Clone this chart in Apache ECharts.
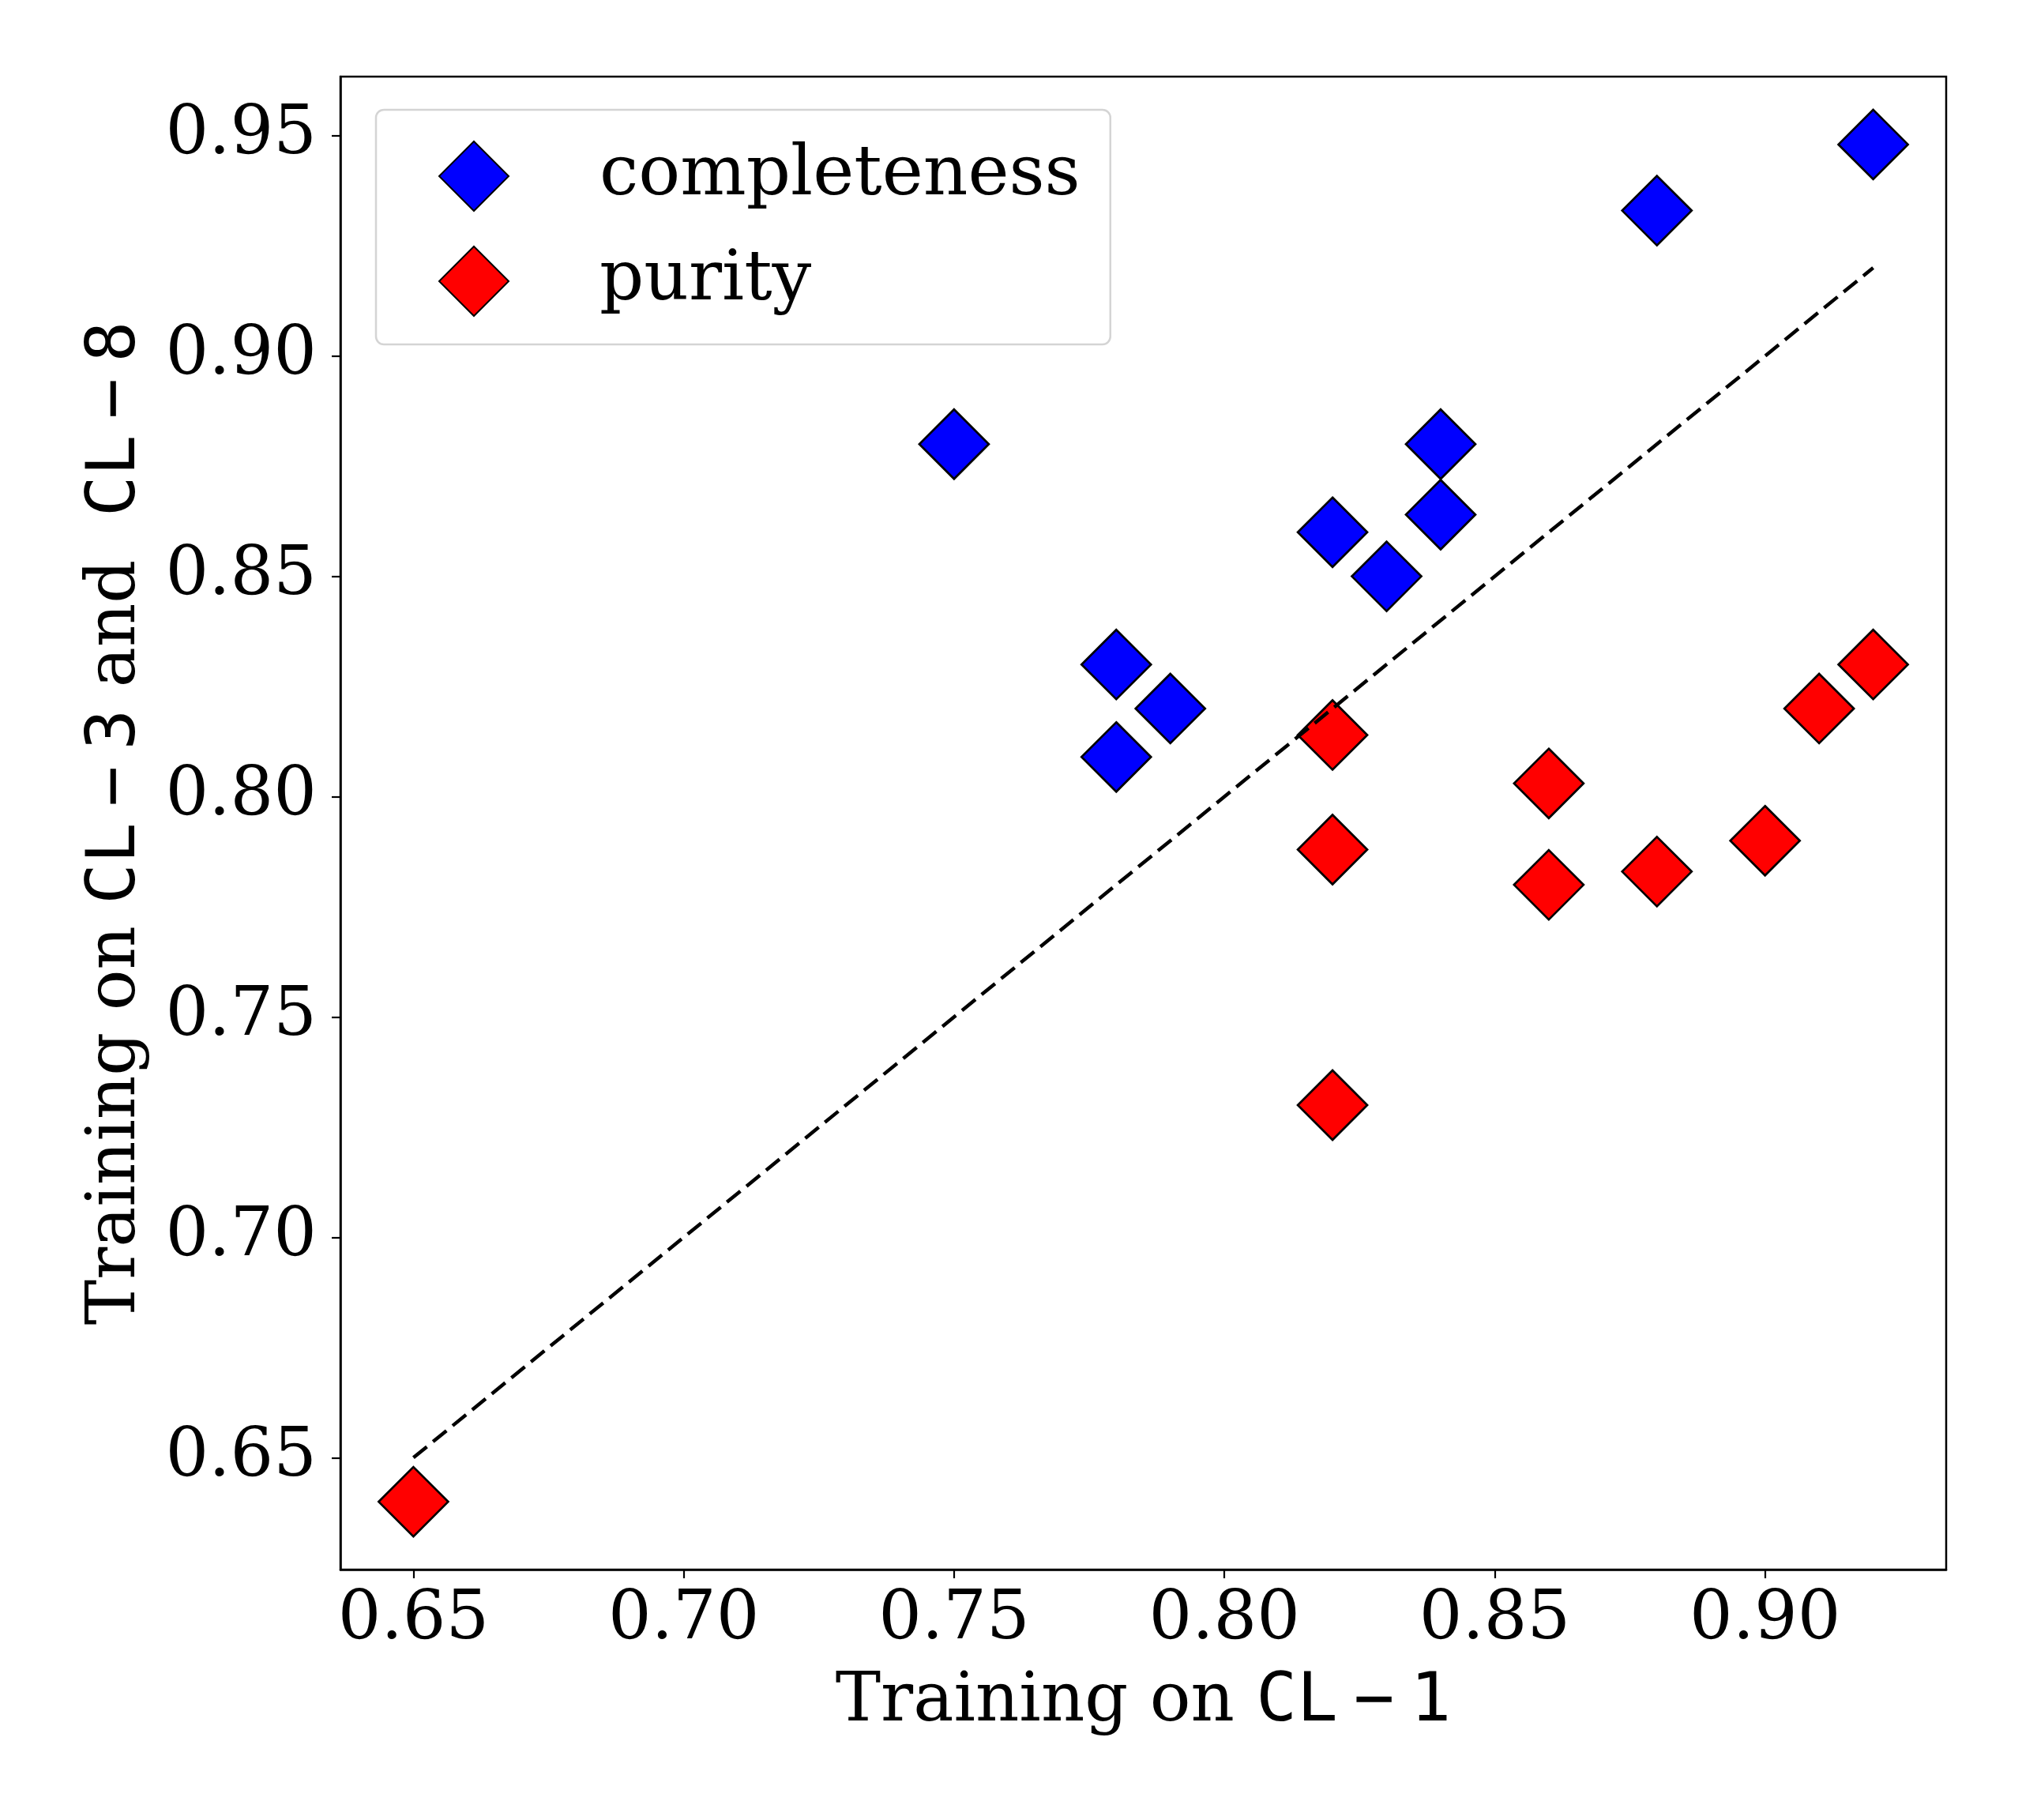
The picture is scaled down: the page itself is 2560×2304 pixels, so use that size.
<!DOCTYPE html>
<html lang="en">
<head>
  <meta charset="UTF-8" />
  <title>CL-1 vs CL-3 and CL-8</title>
  <script src="https://cdn.jsdelivr.net/npm/echarts@6/dist/echarts.min.js"></script>
  <style>
    html, body { margin: 0; padding: 0; background: #fff; }
    #main { width: 2560px; height: 2304px; }
  </style>
</head>
<body>
  <div id="main"></div>
  <script>
    // 数据：横轴为 CL-1 训练结果，纵轴为 CL-3 与 CL-8 训练结果
    var completenessX = [0.92, 0.88, 0.75, 0.84, 0.84, 0.82, 0.83, 0.78, 0.79, 0.78];
    var completenessY = [0.948, 0.933, 0.880, 0.880, 0.864, 0.860, 0.850, 0.830, 0.820, 0.809];
    var purityX = [0.65, 0.82, 0.82, 0.82, 0.86, 0.86, 0.88, 0.90, 0.91, 0.92];
    var purityY = [0.640, 0.814, 0.788, 0.730, 0.803, 0.780, 0.783, 0.790, 0.820, 0.830];
    var diagX = [0.65, 0.92];
    var diagY = [0.65, 0.92];
    var xTicks = [0.65, 0.70, 0.75, 0.80, 0.85, 0.90];
    var yTicks = [0.65, 0.70, 0.75, 0.80, 0.85, 0.90, 0.95];

    function pairs(xs, ys) {
      return xs.map(function (x, i) { return [x, ys[i]]; });
    }

    var serif = 'DejaVu Serif';
    var mono = 'DejaVu Sans Mono';
    var fs = 86;

    // 轴标题里 CL−n 用等宽字体，减号两侧留空（同 mathtext 二元运算符）
    var titleRich = {
      r: { fontFamily: serif, fontSize: fs, color: '#000' },
      m: { fontFamily: mono, fontSize: fs, color: '#000' },
      n: { fontFamily: mono, fontSize: fs, color: '#000', padding: [0, 20, 0, 20] }
    };

    var chart = echarts.init(document.getElementById('main'), null, { renderer: 'canvas', devicePixelRatio: 1 });

    var option = {
      backgroundColor: '#fff',
      animation: false,
      grid: {
        left: 431, right: 96, top: 97, bottom: 317,
        show: true, borderColor: '#000', borderWidth: 2.5, backgroundColor: 'transparent'
      },
      legend: {
        data: ['completeness', 'purity'],
        orient: 'vertical',
        left: 476, top: 139,
        padding: [39, 38, 35, 79],
        itemWidth: 88, itemHeight: 88,
        itemGap: 43,
        borderColor: '#d4d4d4', borderWidth: 2.5, borderRadius: 10,
        backgroundColor: 'rgba(255,255,255,0.8)',
        textStyle: { fontFamily: serif, fontSize: 88, color: '#000', padding: [0, 0, 0, 110] },
        selectedMode: false
      },
      xAxis: {
        type: 'value',
        min: 0.6365, max: 0.9335,
        name: '{r|Training on }{m|CL}{n|\u2212}{m|1}',
        nameLocation: 'middle',
        nameGap: 126,
        nameTextStyle: { rich: titleRich },
        axisLine: { show: true, onZero: false, lineStyle: { color: '#000', width: 2.5 } },
        axisTick: { show: true, length: 11, lineStyle: { color: '#000', width: 2.2 }, customValues: xTicks },
        axisLabel: {
          customValues: xTicks, margin: 22,
          fontFamily: serif, fontSize: fs, color: '#000',
          formatter: function (v) { return v.toFixed(2); }
        },
        splitLine: { show: false }
      },
      yAxis: {
        type: 'value',
        min: 0.6246, max: 0.9634,
        name: '{r|Training on }{m|CL}{n|\u2212}{m|3}{r| and  }{m|CL}{n|\u2212}{m|8}',
        nameLocation: 'middle',
        nameGap: 240,
        nameTextStyle: { rich: titleRich },
        axisLine: { show: true, onZero: false, lineStyle: { color: '#000', width: 2.5 } },
        axisTick: { show: true, length: 11, lineStyle: { color: '#000', width: 2.2 }, customValues: yTicks },
        axisLabel: {
          customValues: yTicks, margin: 30,
          fontFamily: serif, fontSize: fs, color: '#000',
          formatter: function (v) { return v.toFixed(2); }
        },
        splitLine: { show: false }
      },
      series: [
        {
          name: 'completeness',
          type: 'scatter',
          symbol: 'diamond',
          symbolSize: 88,
          itemStyle: { color: '#0000ff', borderColor: '#000', borderWidth: 2.7, opacity: 1 },
          data: pairs(completenessX, completenessY),
          z: 2
        },
        {
          name: 'purity',
          type: 'scatter',
          symbol: 'diamond',
          symbolSize: 88,
          itemStyle: { color: '#ff0000', borderColor: '#000', borderWidth: 2.7, opacity: 1 },
          data: pairs(purityX, purityY),
          z: 2
        },
        {
          name: 'diagonal',
          type: 'line',
          showSymbol: false,
          silent: true,
          lineStyle: { color: '#000', width: 4.5, type: [22, 10] },
          data: pairs(diagX, diagY),
          z: 3
        }
      ]
    };

    chart.setOption(option);
  </script>
</body>
</html>
